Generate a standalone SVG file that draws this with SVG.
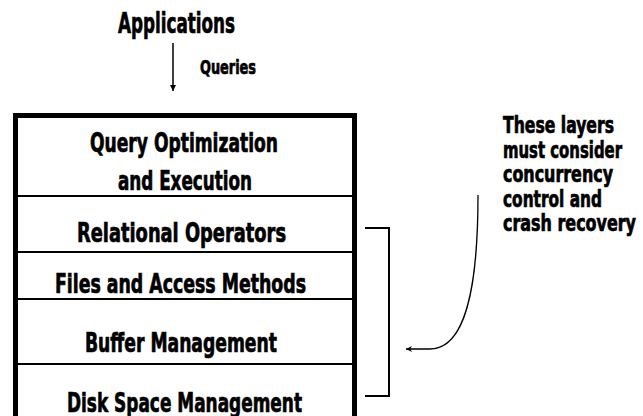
<svg xmlns="http://www.w3.org/2000/svg" width="643" height="416" viewBox="0 0 643 416">
<style>
text{font-family:"DejaVu Sans Condensed","Liberation Sans Narrow","Liberation Sans",sans-serif;font-weight:bold;fill:#000;stroke:#000;stroke-width:0.7}
.lbl{font-size:27px}
.note{font-size:23px}
.ln{stroke:#000;fill:none}
</style>
<defs>
<marker id="ah" viewBox="0 0 10 10" refX="10" refY="5" markerWidth="6" markerHeight="7" markerUnits="userSpaceOnUse" orient="auto">
<path d="M0,0 L10,5 L0,10 z" fill="#000"/>
</marker>
<marker id="ah2" viewBox="0 0 10 10" refX="10" refY="5" markerWidth="9" markerHeight="6" markerUnits="userSpaceOnUse" orient="auto">
<path d="M0,0 L10,5 L0,10 L3,5 z" fill="#000"/>
</marker>
</defs>
<rect width="643" height="416" fill="#fff"/>
<g id="applications">
<text x="118" y="33" font-size="29" textLength="117" lengthAdjust="spacingAndGlyphs">Applications</text>
</g>
<g id="stack">
<rect x="15.5" y="115.5" width="339" height="320" fill="none" stroke="#000" stroke-width="5"/>
<line class="ln" x1="13" y1="196" x2="357" y2="196" stroke-width="2"/>
<line class="ln" x1="13" y1="252" x2="357" y2="252" stroke-width="2"/>
<line class="ln" x1="13" y1="299" x2="357" y2="299" stroke-width="2"/>
<line class="ln" x1="13" y1="364" x2="357" y2="364" stroke-width="2"/>
</g>
<g id="query-opt">
<text class="lbl" x="90" y="152" textLength="188" lengthAdjust="spacingAndGlyphs">Query Optimization</text>
<text class="lbl" x="118" y="190" textLength="134" lengthAdjust="spacingAndGlyphs">and Execution</text>
</g>
<g id="relational">
<text class="lbl" x="77" y="242" textLength="209" lengthAdjust="spacingAndGlyphs">Relational Operators</text>
</g>
<g id="files">
<text class="lbl" x="55" y="293" textLength="251" lengthAdjust="spacingAndGlyphs">Files and Access Methods</text>
</g>
<g id="buffer">
<text class="lbl" x="85" y="352" textLength="192" lengthAdjust="spacingAndGlyphs">Buffer Management</text>
</g>
<g id="disk">
<text class="lbl" x="67" y="412" textLength="235" lengthAdjust="spacingAndGlyphs">Disk Space Management</text>
</g>
<g id="note">
<text class="note" x="503" y="133" textLength="111" lengthAdjust="spacingAndGlyphs">These layers</text>
<text class="note" x="503" y="157.5" textLength="119" lengthAdjust="spacingAndGlyphs">must consider</text>
<text class="note" x="503" y="182" textLength="110" lengthAdjust="spacingAndGlyphs">concurrency</text>
<text class="note" x="503" y="206.5" textLength="99" lengthAdjust="spacingAndGlyphs">control and</text>
<text class="note" x="503" y="231" textLength="133" lengthAdjust="spacingAndGlyphs">crash recovery</text>
</g>
<g id="connectors">
<line class="ln" x1="173" y1="43" x2="173" y2="91" stroke-width="1.5" marker-end="url(#ah)"/>
<text x="200" y="74" font-size="20" textLength="56" lengthAdjust="spacingAndGlyphs">Queries</text>
<path class="ln" d="M365,228 H389 V396 H365" stroke-width="2"/>
<path class="ln" d="M478,195 C478,290 465,349 430,349 H406" stroke-width="1.3" marker-end="url(#ah2)"/>
</g>
</svg>
